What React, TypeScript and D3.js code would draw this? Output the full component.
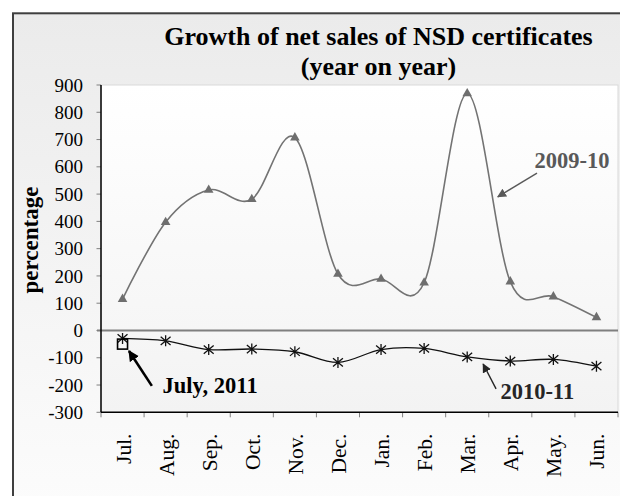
import React from "react";
import * as d3 from "d3";

const months = ["Jul.", "Aug.", "Sep.", "Oct.", "Nov.", "Dec.", "Jan.", "Feb.", "Mar.", "Apr.", "May.", "Jun."];
const series0910 = [115, 397, 515, 481, 707, 207, 189, 175, 869, 179, 124, 48];
const series1011 = [-29, -38, -70, -68, -78, -117, -70, -66, -97, -112, -106, -131];
const series1112 = [-50];
const yTicks = [900, 800, 700, 600, 500, 400, 300, 200, 100, 0, -100, -200, -300];

// annotations in data space: index position (fractional month index) and value
const annLabels = ["July, 2011", "2010-11", "2009-10"];
const annTextPos = [[0.93, -228], [8.77, -251], [9.56, 596]];
const annArrowFrom = [[0.68, -203], [8.67, -214], [9.62, 577]];
const annArrowTo = [[0.15, -75], [8.37, -123], [8.71, 490]];
const annColors = ["#000000", "#262626", "#595959"];
const annWidths = [2.6, 1.4, 1.4];

const W = 620;
const H = 496;
const plot = { left: 101, right: 618, top: 85, bottom: 412.3 };

export default function App() {
  const x = d3.scaleBand<string>().domain(months).range([plot.left, plot.right]).padding(0);
  const bw = x.bandwidth();
  const xi = d3.scaleLinear().domain([0, 1]).range([plot.left + bw / 2, plot.left + bw * 1.5]);
  const y = d3.scaleLinear().domain([-300, 900]).range([plot.bottom, plot.top]);

  const line = d3
    .line<number>()
    .x((_, i) => xi(i))
    .y((d) => y(d))
    .curve(d3.curveCatmullRom.alpha(0));

  const serif = "'Liberation Serif', 'Times New Roman', Times, serif";
  const tri = d3.symbol().type(d3.symbolTriangle).size(40)();
  const ast = (cx: number, cy: number, r: number) =>
    `M${cx},${cy - r}L${cx},${cy + r}M${cx - r * 0.9},${cy - r * 0.75}L${cx + r * 0.9},${cy + r * 0.75}M${cx - r * 0.9},${cy + r * 0.75}L${cx + r * 0.9},${cy - r * 0.75}`;

  return (
    <svg width={W} height={H} style={{ position: "absolute", left: 0, top: 0 }} fontFamily={serif}>
      <defs>
        <linearGradient id="bgGrad" x1="0" y1="0" x2="0" y2="1">
          <stop offset="0" stopColor="#ebebeb" />
          <stop offset="1" stopColor="#fcfcfc" />
        </linearGradient>
        <linearGradient id="plotGrad" x1="0" y1="0" x2="0" y2="1">
          <stop offset="0" stopColor="#ffffff" />
          <stop offset="1" stopColor="#f3f3f3" />
        </linearGradient>
        {annColors.map((c, i) => (
          <marker
            key={i}
            id={`arr${i}`}
            viewBox="0 0 10 10"
            refX="9"
            refY="5"
            markerWidth={i === 0 ? 4.2 : 6.5}
            markerHeight={i === 0 ? 4.2 : 6.5}
            markerUnits="strokeWidth"
            orient="auto"
          >
            <path d="M0,0L10,5L0,10z" fill={c} />
          </marker>
        ))}
      </defs>
      <rect x={13} y={13.3} width={W} height={H} fill="url(#bgGrad)" stroke="#3f3f3f" strokeWidth={2} />
      <text x={378.5} y={45} textAnchor="middle" fontWeight="bold" fontSize={26}>
        Growth of net sales of NSD certificates
      </text>
      <text x={378.5} y={75} textAnchor="middle" fontWeight="bold" fontSize={26}>
        (year on year)
      </text>
      <rect
        x={plot.left}
        y={plot.top}
        width={plot.right - plot.left}
        height={plot.bottom - plot.top}
        fill="url(#plotGrad)"
        stroke="#d9d9d9"
        strokeWidth={1}
      />
      {/* zero line */}
      <line x1={plot.left - 4} x2={plot.right} y1={y(0)} y2={y(0)} stroke="#7f7f7f" strokeWidth={2.2} />
      {/* y axis */}
      {yTicks.map((t) => (
        <g key={t}>
          <line x1={plot.left - 4.5} x2={plot.left} y1={y(t)} y2={y(t)} stroke="#808080" strokeWidth={1} />
          <text x={83} y={y(t)} dy="0.35em" textAnchor="end" fontSize={19}>
            {t}
          </text>
        </g>
      ))}
      <line x1={plot.left} x2={plot.left} y1={plot.top} y2={plot.bottom} stroke="#000" strokeWidth={1.5} />
      <text transform={`translate(38,240) rotate(-90)`} textAnchor="middle" fontWeight="bold" fontSize={23}>
        percentage
      </text>
      {/* x axis */}
      {d3.range(months.length + 1).map((i) => (
        <line
          key={i}
          x1={plot.left + bw * i}
          x2={plot.left + bw * i}
          y1={plot.bottom}
          y2={plot.bottom + 5}
          stroke="#808080"
          strokeWidth={1}
        />
      ))}
      <line x1={plot.left} x2={plot.right} y1={plot.bottom} y2={plot.bottom} stroke="#000" strokeWidth={1.5} />
      {months.map((m) => (
        <text
          key={m}
          transform={`translate(${(x(m) as number) + bw / 2 + 8},433.5) rotate(-90)`}
          textAnchor="end"
          fontSize={21.5}
        >
          {m}
        </text>
      ))}
      {/* 2009-10 series */}
      <path d={line(series0910) || ""} fill="none" stroke="#737373" strokeWidth={1.6} />
      {series0910.map((v, i) => (
        <path key={i} d={tri || ""} transform={`translate(${xi(i)},${y(v)})`} fill="#6e6e6e" />
      ))}
      {/* 2010-11 series */}
      <path d={line(series1011) || ""} fill="none" stroke="#111" strokeWidth={1.3} />
      {series1011.map((v, i) => (
        <path key={i} d={ast(xi(i), y(v), 5.5)} stroke="#111" strokeWidth={1.3} fill="none" />
      ))}
      {/* July 2011 point */}
      {series1112.map((v, i) => (
        <rect
          key={i}
          x={xi(i) - 5}
          y={y(v) - 5}
          width={10}
          height={10}
          fill="none"
          stroke="#000"
          strokeWidth={1.6}
        />
      ))}
      {/* annotations */}
      {annLabels.map((l, i) => (
        <g key={l}>
          <line
            x1={xi(annArrowFrom[i][0])}
            y1={y(annArrowFrom[i][1])}
            x2={xi(annArrowTo[i][0])}
            y2={y(annArrowTo[i][1])}
            stroke={annColors[i]}
            strokeWidth={annWidths[i]}
            markerEnd={`url(#arr${i})`}
          />
          <text
            x={xi(annTextPos[i][0])}
            y={y(annTextPos[i][1])}
            fontWeight="bold"
            fontSize={22.5}
            fill={i === 2 ? "#595959" : i === 1 ? "#262626" : "#000"}
          >
            {l}
          </text>
        </g>
      ))}
    </svg>
  );
}
